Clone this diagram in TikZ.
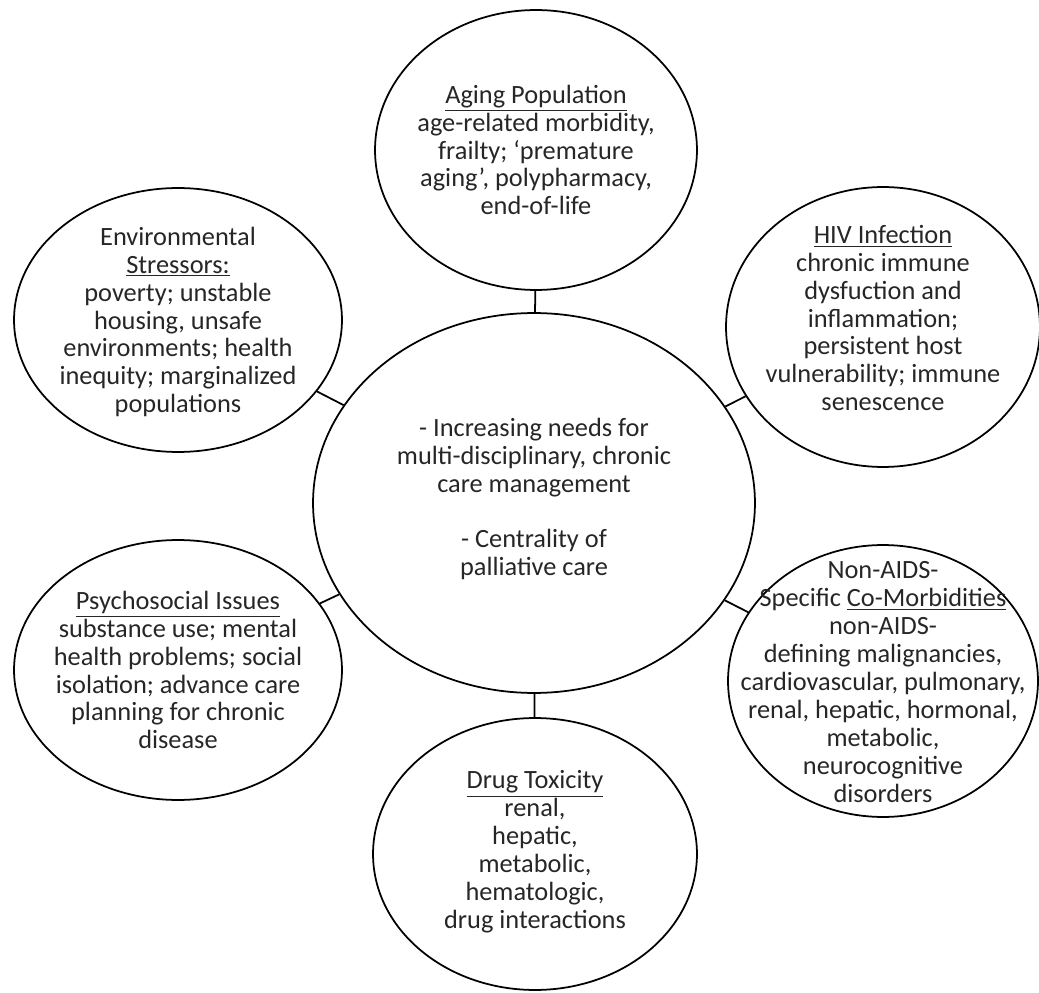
\documentclass[tikz,border=0pt]{standalone}
\usepackage{fontspec}
\setmainfont{Carlito}
\usetikzlibrary{shapes.geometric}
\begin{document}
\begin{tikzpicture}[x=0.02cm,y=-0.02cm,
  bubble/.style={ellipse,draw=black,line width=1pt,inner sep=0pt},
  txt/.style={align=center,inner sep=0pt,text=black!85,font=\fontsize{15}{15.9}\selectfont},
  link/.style={draw=black,line width=1pt}]
\useasboundingbox (0,0) rectangle (1039,993);
% circles
\node[bubble,minimum width=8.84cm,minimum height=7.6cm] (core) at (534,503) {};
\node[bubble,minimum width=6.44cm,minimum height=5.6cm] (aging) at (536,150) {};
\node[bubble,minimum width=6.56cm,minimum height=5.28cm] (env) at (178,320) {};
\node[bubble,minimum width=6.28cm,minimum height=5.6cm] (hiv) at (883,327) {};
\node[bubble,minimum width=6.56cm,minimum height=5.2cm] (psy) at (178,670) {};
\node[bubble,minimum width=6.2cm,minimum height=5.44cm] (nonaids) at (883,681) {};
\node[bubble,minimum width=6.48cm,minimum height=5.44cm] (drug) at (535,854) {};
% texts
\node[txt] (coretxt) at (534,499) {- Increasing needs for\\multi-disciplinary, chronic\\care management\\[15.9pt]- Centrality of\\palliative care};
\node[txt] (agingtxt) at (536,150) {\underline{Aging Population}\\age-related morbidity,\\frailty; ‘premature\\aging’, polypharmacy,\\end-of-life};
\node[txt] (envtxt) at (178,322) {Environmental\\\underline{Stressors:}\\poverty; unstable\\housing, unsafe\\environments; health\\inequity; marginalized\\populations};
\node[txt] (hivtxt) at (883,318) {\underline{HIV Infection}\\chronic immune\\dysfuction and\\inflammation;\\persistent host\\vulnerability; immune\\senescence};
\node[txt] (psytxt) at (178,670) {\underline{Psychosocial Issues}\\substance use; mental\\health problems; social\\isolation; advance care\\planning for chronic\\disease};
\node[txt] (nonaidstxt) at (883,682) {Non-AIDS-\\Specific \underline{Co-Morbidities}\\non-AIDS-\\defining malignancies,\\cardiovascular, pulmonary,\\renal, hepatic, hormonal,\\metabolic,\\neurocognitive\\disorders};
\node[txt] (drugtxt) at (535,852) {\underline{Drug Toxicity}\\renal,\\hepatic,\\metabolic,\\hematologic,\\drug interactions};
% connectors
\draw[link] (core) -- (aging);
\draw[link] (core) -- (env);
\draw[link] (core) -- (hiv);
\draw[link] (core) -- (psy);
\draw[link] (core) -- (nonaids);
\draw[link] (core) -- (drug);
\end{tikzpicture}
\end{document}
